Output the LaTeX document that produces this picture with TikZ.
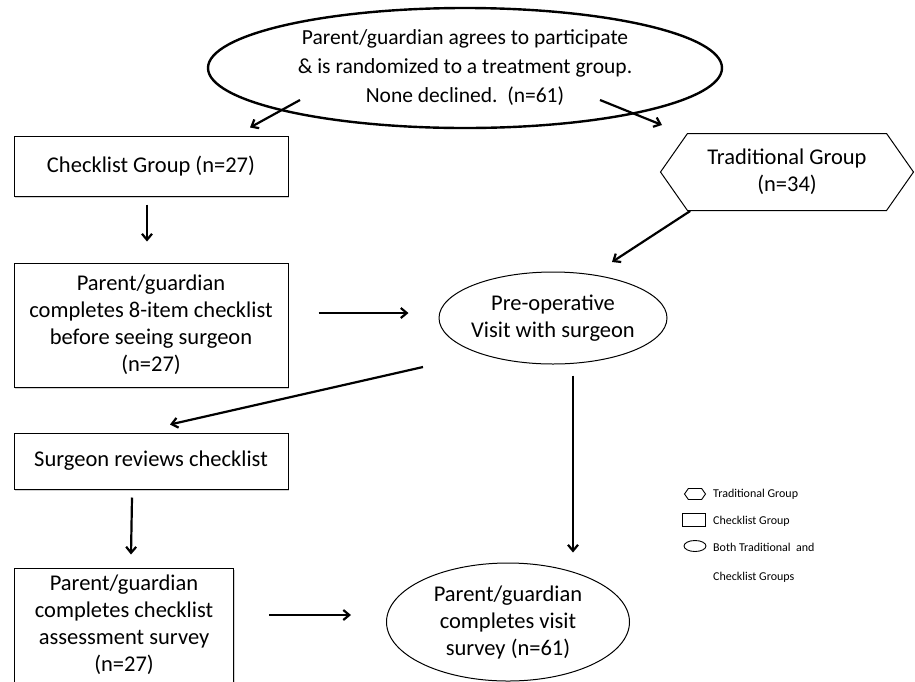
\documentclass[tikz,border=0pt]{standalone}
\usepackage{fontspec}
\setmainfont{Carlito}
\usetikzlibrary{positioning}
\usetikzlibrary{shapes.geometric,shapes.symbols}
\usetikzlibrary{arrows.meta,shadows}

\newcommand{\flowfont}{\fontsize{22.5}{27}\selectfont}
\newcommand{\topfont}{\fontsize{21.5}{29}\selectfont}
\newcommand{\keyfont}{\fontsize{12}{14}\selectfont}

\tikzset{
  shade box/.style={drop shadow={shadow xshift=1.2pt, shadow yshift=-1.5pt, fill=black!30, opacity=0.6}},
  box/.style={draw, line width=1pt, fill=white, shade box, rectangle, align=center, inner sep=0pt, font=\flowfont},
  oval/.style={draw, line width=1pt, fill=white, ellipse, align=center, inner sep=-2pt, font=\flowfont},
  hexa/.style={draw, line width=1pt, signal, signal to=west and east, signal pointer angle=110,
               align=center, inner sep=0pt, font=\flowfont},
  arr/.style={-{Straight Barb[length=6pt,width=10pt]}, line width=2.2pt},
}

\begin{document}
\begin{tikzpicture}[x=1pt,y=-1pt]
		\useasboundingbox (0,0) rectangle (915,681);
		
		% top of the flow
		\node[oval, line width=2.4pt, font=\topfont, minimum width=514, minimum height=120] (start) at (465,68)
		  {Parent/guardian agrees to participate\\ \& is randomized to a treatment group.\\ None declined.\ \ (n=61)};
		
		\node[box, minimum width=274, minimum height=60] (group) at (151,166) {Checklist Group (n=27)};
		\node[hexa, minimum width=253, minimum height=77] (trad) at (787,172) {Traditional Group\\ (n=34)};
		
		\node[box, minimum width=274, minimum height=124] (fill) at (151,325)
		  {Parent/guardian\\ completes 8-item checklist\\ before seeing surgeon\\ (n=27)};
		\node[oval, minimum width=228, minimum height=92] (visit) at (553,318) {Pre-operative\\ Visit with surgeon};
		
		\node[box, minimum width=274, minimum height=56] (review) at (151,461) {Surgeon reviews checklist};
		
		\node[box, minimum width=219, minimum height=114] (assess) at (124,625)
		  {Parent/guardian\\ completes checklist\\ assessment survey\\ (n=27)};
		\node[oval, minimum width=243, minimum height=118] (final) at (508,622)
		  {Parent/guardian\\ completes visit\\ survey (n=61)};
		
		% arrows
		\draw[arr] ([shift={(-165,32)}]start.center) -- ([shift={(99,-8)}]group.north);
		\draw[arr] ([shift={(135,32)}]start.center) -- ([shift={(-125,-47)}]trad.center);
		\draw[arr] ([shift={(-4,8)}]group.south) -- ([shift={(-4,-21)}]fill.north);
		\draw[arr] ([shift={(30,-12)}]fill.east) -- ([shift={(-30,-5)}]visit.west);
		\draw[arr] ([xshift=3]trad.south west) -- ([shift={(59,-56)}]visit.center);
		\draw[arr] ([shift={(-130,49)}]visit.center) -- ([shift={(19,-8)}]review.north);
		\draw[arr] ([shift={(-19,8)}]review.south) -- ([shift={(7,-13)}]assess.north);
		\draw[arr] ([shift={(35,-10)}]assess.east) -- ([shift={(-35,-7)}]final.west);
		\draw[arr] ([shift={(20,11)}]visit.south) -- ([shift={(65,-10)}]final.north);
		
		% key
		\node[draw, line width=0.9pt, signal, signal to=west and east, signal pointer angle=110, inner sep=0pt,
		      minimum width=21, minimum height=11] (keytrad) at (695,494) {};
		\node[draw, line width=0.9pt, rectangle, inner sep=0pt, minimum width=23, minimum height=13] (keyck) at (694,520) {};
		\node[draw, line width=0.9pt, ellipse, inner sep=0pt, minimum width=22, minimum height=11] (keyboth) at (695,546) {};
		\node[anchor=west, font=\keyfont, inner sep=0pt] (ktxt1) at (713,494) {Traditional Group};
		\node[anchor=west, font=\keyfont, inner sep=0pt] (ktxt2) at (713,521) {Checklist Group};
		\node[anchor=west, font=\keyfont, inner sep=0pt] (ktxt3) at (713,547) {Both Traditional\ \ and};
		\node[anchor=west, font=\keyfont, inner sep=0pt] (ktxt4) at (713,577) {Checklist Groups};
	\end{tikzpicture}
\end{document}
